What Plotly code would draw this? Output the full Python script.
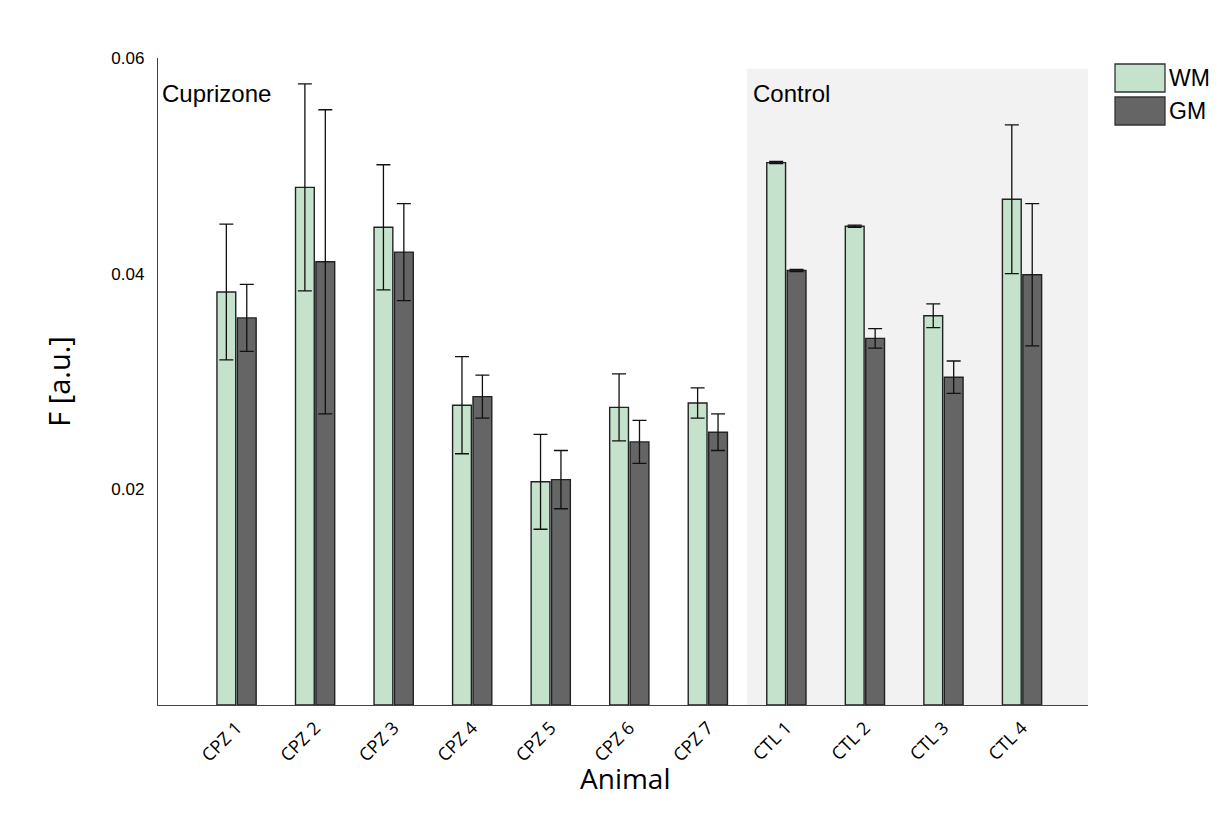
import plotly.graph_objects as go

animals = ["CPZ 1", "CPZ 2", "CPZ 3", "CPZ 4", "CPZ 5", "CPZ 6", "CPZ 7",
           "CTL 1", "CTL 2", "CTL 3", "CTL 4"]
wm_values = [0.0383, 0.0480, 0.0443, 0.0278, 0.0207, 0.0276, 0.0280,
             0.0503, 0.0444, 0.0361, 0.0469]
wm_errors = [0.0063, 0.0096, 0.0058, 0.0045, 0.0044, 0.0031, 0.0014,
             0.0001, 0.0001, 0.0011, 0.0069]
gm_values = [0.0359, 0.0411, 0.0420, 0.0286, 0.0209, 0.0244, 0.0253,
             0.0403, 0.0340, 0.0304, 0.0399]
gm_errors = [0.0031, 0.0141, 0.0045, 0.0020, 0.0027, 0.0020, 0.0017,
             0.0001, 0.0009, 0.0015, 0.0066]
y_ticks = [0.02, 0.04, 0.06]
y_tick_labels = ["0.02", "0.04", "0.06"]

x_pos = list(range(len(animals)))
n_cpz = sum(1 for a in animals if a.startswith("CPZ"))

WM_COLOR = "#c5e2cd"
GM_COLOR = "#656565"
EDGE = "#222222"

# page body adds an 8px margin; compensate
OFF = 8
L, T, PW, PH = 158 - OFF, 58 - OFF, 930, 647
W, H = 1218 - 2 * OFF, 819 - 2 * OFF

fig = go.Figure()
fig.add_trace(go.Bar(
    x=x_pos, y=wm_values, name="WM",
    marker=dict(color=WM_COLOR, line=dict(color=EDGE, width=1.4)),
    error_y=dict(type="data", array=wm_errors, color="#111111", thickness=1.3, width=7),
))
fig.add_trace(go.Bar(
    x=x_pos, y=gm_values, name="GM",
    marker=dict(color=GM_COLOR, line=dict(color=EDGE, width=1.4)),
    error_y=dict(type="data", array=gm_errors, color="#111111", thickness=1.3, width=7),
))

# Control shaded region
fig.add_shape(type="rect", xref="x", yref="y",
              x0=n_cpz - 0.5, x1=10.84, y0=0, y1=0.0590,
              fillcolor="#f2f2f2", line=dict(width=0), layer="below")

fig.add_annotation(x=-1, y=0.0567, xref="x", yref="y", text="Cuprizone",
                   showarrow=False, xanchor="left", xshift=2,
                   font=dict(family="Liberation Sans, Arial", size=24, color="black"))
fig.add_annotation(x=n_cpz - 0.5, y=0.0567, xref="x", yref="y", text="Control",
                   showarrow=False, xanchor="left", xshift=4,
                   font=dict(family="Liberation Sans, Arial", size=24, color="black"))

# x-axis title placed precisely
fig.add_annotation(xref="paper", yref="paper",
                   x=(625 - 158) / PW, y=(705 - 778) / PH,
                   text="Animal", showarrow=False, xanchor="center", yanchor="middle",
                   font=dict(family="Open Sans", size=28, color="black"))

# Legend drawn manually (large swatches)
legend_items = [("WM", WM_COLOR), ("GM", GM_COLOR)]
for i, (lbl, col) in enumerate(legend_items):
    top = 64 + i * 33
    fig.add_shape(type="rect", xref="paper", yref="paper",
                  x0=(1115 - 158) / PW, x1=(1165 - 158) / PW,
                  y0=(705 - (top + 28)) / PH, y1=(705 - top) / PH,
                  fillcolor=col, line=dict(color="#333333", width=1.3))
    fig.add_annotation(xref="paper", yref="paper",
                       x=(1167 - 158) / PW, y=(705 - (top + 14)) / PH,
                       text=lbl, showarrow=False, xanchor="left", yanchor="middle",
                       font=dict(family="Liberation Sans, Arial", size=23, color="black"))

fig.update_layout(
    width=W, height=H,
    margin=dict(l=L, r=W - L - PW, t=T, b=H - T - PH),
    paper_bgcolor="white", plot_bgcolor="white",
    barmode="group", bargap=0.48, bargroupgap=0.08,
    showlegend=False,
    font=dict(family="Open Sans", color="black"),
)
fig.update_xaxes(
    range=[-1, 10.84], tickmode="array", tickvals=x_pos, ticktext=animals,
    tickangle=-45, tickfont=dict(family="Open Sans", size=18),
    ticklabelstandoff=4,
    showline=True, linecolor="#444444", linewidth=1.3, showgrid=False,
    ticks="", zeroline=False,
)
fig.update_yaxes(
    range=[0, 0.06], tickmode="array", tickvals=y_ticks, ticktext=y_tick_labels,
    tickfont=dict(family="Liberation Sans, Arial", size=17),
    ticklabelstandoff=9,
    showline=True, linecolor="#444444", linewidth=1.3, showgrid=False,
    ticks="", zeroline=False,
    title=dict(text="F [a.u.]", font=dict(family="Open Sans", size=29), standoff=32),
)

fig.write_html("out.html")
